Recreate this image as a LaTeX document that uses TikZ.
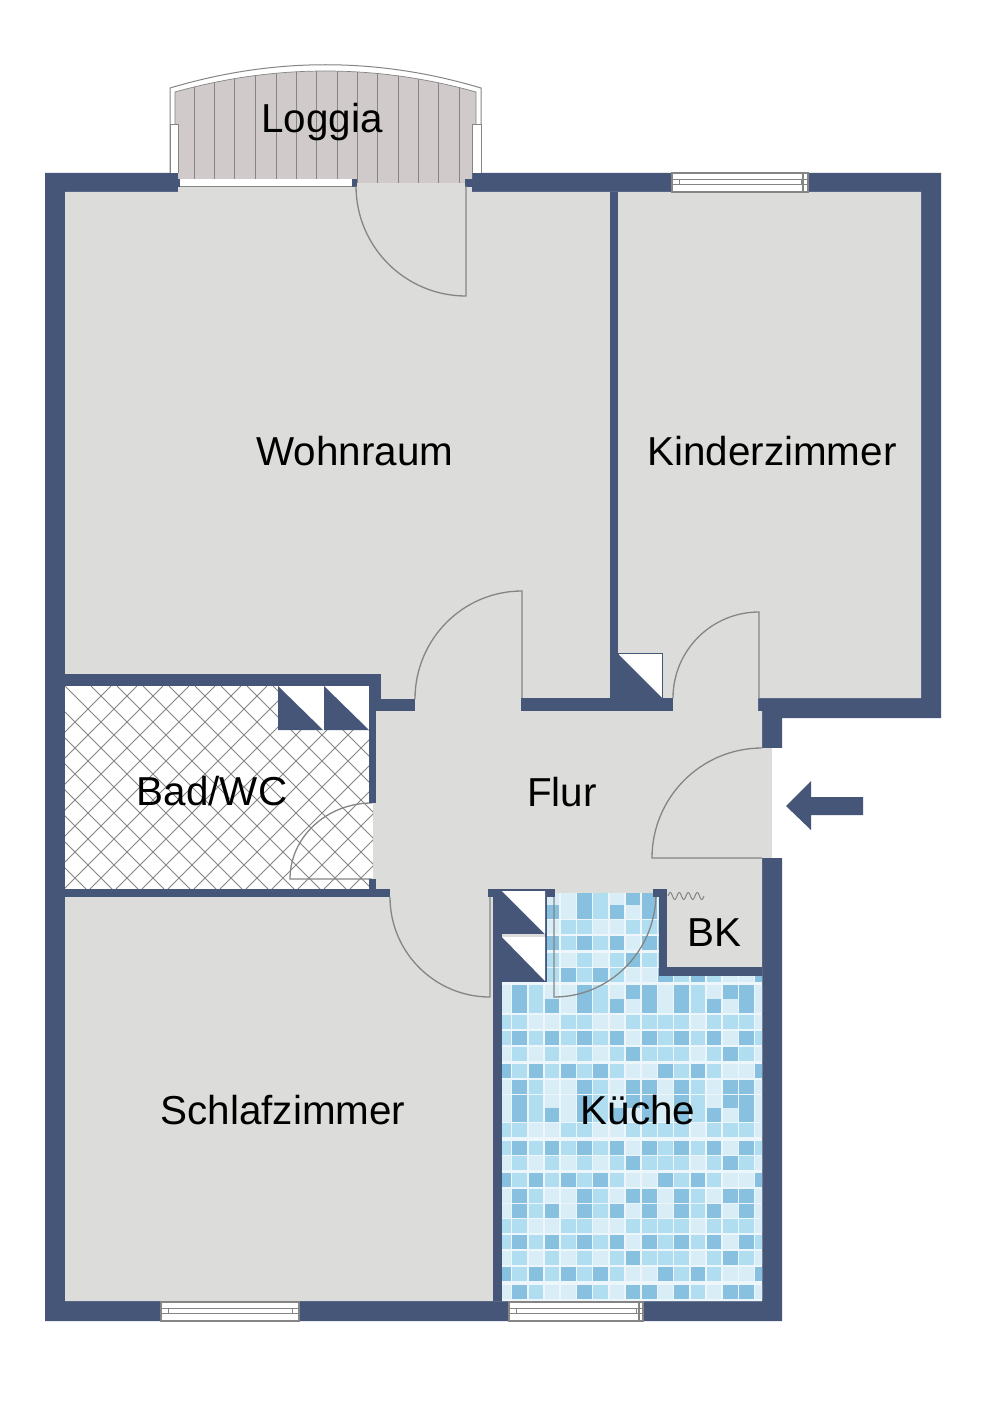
\documentclass[tikz,border=0pt]{standalone}
\usepackage{fontspec}
\setmainfont{Liberation Sans}
\definecolor{wallc}{HTML}{465678}
\definecolor{floorc}{HTML}{DCDCDA}
\definecolor{woodc}{HTML}{D0CACA}
\definecolor{edgec}{HTML}{858585}
\definecolor{groutc}{HTML}{EDF7FB}
\definecolor{tile1}{HTML}{D8EDF5}
\definecolor{tile2}{HTML}{B0DDF0}
\definecolor{tile3}{HTML}{88C1DF}
\def\rowA{2,3,2,3,2,3,2,3,1,3,2,3,2,3,1,3,2}
\def\rowB{1,2,1,2,1,2,1,2,3,2,2,2,1,2,3,2,1}
\def\rowC{3,2,3,2,3,2,3,2,1,1,3,2,3,2,1,1,3}
\def\rowD{1,3,2,1,1,3,2,1,3,3,1,3,2,1,3,3,1}
\def\rowE{1,3,2,3,1,3,2,3,1,3,1,3,2,3,1,3,1}
\def\rowF{2,2,1,1,2,2,1,1,2,2,2,2,1,2,2,2,1}
\tikzset{x=1pt,y=-1pt,
    roomlabel/.style={anchor=base,font=\fontsize{40.4}{48}\selectfont,inner sep=0pt},
    doorline/.style={draw=edgec,line width=1.3pt},
    winline/.style={draw=edgec,line width=1pt},
    }

\begin{document}
\begin{tikzpicture}
\useasboundingbox (0,0) rectangle (1000,1415);
\fill[white] (0,0) rectangle (1000,1415);
%outer walls, floor
\fill[wallc] (45,173) -- (941,173) -- (941,718) -- (782,718) -- (782,1321) -- (45,1321) -- cycle;
\fill[floorc] (65,192) -- (921,192) -- (921,698) -- (758,698) -- (758,711) -- (762,711) -- (762,1301) -- (65,1301) -- cycle;
\fill[floorc] (178,187) rectangle (472,192);
\fill[floorc] (357,179) rectangle (465,187);
\fill[floorc] (758,748) rectangle (772,858);
\fill[white] (772,748) rectangle (783,858);
%loggia
\filldraw[fill=white,winline] (170,173) -- (170,88) .. controls (274,57) and (377,57) .. (481,88) -- (481,173);
\begin{scope}
\clip (175,92) .. controls (275,64) and (376,64) .. (476,92) -- (476,124) -- (472,124) -- (472,179) -- (465,179) -- (465,183) -- (357,183) -- (357,179) -- (178,179) -- (178,124) -- (175,124) -- cycle;
\fill[woodc] (170,60) rectangle (481,190);
\foreach \x in {194,214,234,255,276,296,316,337,357,377,398,418,438,459}
    \draw[edgec,line width=0.8pt] (\x,60) -- (\x,190);
\end{scope}
\draw[winline,line width=0.7pt] (175,124) -- (175,92) .. controls (275,64) and (376,64) .. (476,92) -- (476,124);
\filldraw[fill=white,winline,line width=0.7pt] (170,173) -- (170,124) -- (178,124) -- (178,173);
\filldraw[fill=white,winline,line width=0.7pt] (481,173) -- (481,124) -- (472,124) -- (472,173);
\fill[white] (180,179) rectangle (352,187);
\draw[winline] (180,187) -- (352,187);
\fill[wallc] (178,179) rectangle (180,187);
\fill[wallc] (352,179) rectangle (357,187);
\fill[wallc] (465,179) rectangle (472,187);
%bad
\fill[white] (65,686) rectangle (373,889);
\begin{scope}
\clip (65,686) rectangle (373,889);
\foreach \d in {-143,-117,...,370}
    \draw[edgec,line width=0.9pt] (\d,686) -- ++(203,203);
\foreach \d in {-92,-66,...,560}
    \draw[edgec,line width=0.9pt] (\d,889) -- ++(203,-203);
\end{scope}
%kueche
\begin{scope}
\clip (546,893) -- (659,893) -- (659,976) -- (762,976) -- (762,1301) -- (502,1301) -- (502,982) -- (546,982) -- cycle;
\fill[groutc] (500,890) rectangle (765,1305);
\foreach \ty/\tilerow in {898/\rowD,912/\rowE,927/\rowF,943/\rowA,960/\rowB,975/\rowC,992/\rowD,1006/\rowE,1022/\rowF,
    1038/\rowA,1054/\rowB,1071/\rowC,1087/\rowD,1102/\rowD,1115/\rowE,1130/\rowF,1148/\rowA,1163/\rowB,1180/\rowC,
    1196/\rowD,1211/\rowE,1226/\rowF,1242/\rowA,1258/\rowB,1274/\rowC,1292/\rowD} {
  \edef\tilelist{\tilerow}
  \foreach \t [count=\c from 0] in \tilelist
    \fill[tile\t] (496.1+\c*16.2,\ty-7.2) rectangle ++(14.7,14.4);
}
\end{scope}
%doors: hinge x/y, start, end, radii
\foreach \hx/\hy/\sa/\ea/\rx/\ry in {466/186/180/90/110/110,522/699/180/270/107/108,759/698/180/270/86/86,
    762/858/270/180/110/110,372/879/270/180/82/76,490/897/180/90/100/100,554/893/0/90/102/104}
    \draw[doorline] (\hx,\hy) ++({\rx*cos(\sa)},{\ry*sin(\sa)}) arc[start angle=\sa,end angle=\ea,x radius=\rx,y radius=\ry] -- (\hx,\hy);
%inner walls
\foreach \xa/\ya/\xb/\yb in {610/192/618/711,521/698/673/711,618/698/618/711,65/674/381/686,369/674/381/711,381/699/415/711,
    369/711/376/803,369/879/376/890,65/889/390/897,488/889/555/897,493/889/502/1301,653/889/667/897,659/897/667/976,659/967/762/976,
    502/976/546/982,545/897/547/982}
    \fill[wallc] (\xa,\ya) rectangle (\xb,\yb);
%shafts
\fill[white] (278,686) rectangle (369,730);
\foreach \xa/\xb in {278/323,324/369}
    \fill[wallc] (\xa,686) -- (\xb,730) -- (\xa,730) -- cycle;
\filldraw[fill=white,draw=wallc,line width=1pt] (618,653.5) -- (662,653.5) -- (662,698) -- (618,698) -- cycle;
\fill[wallc] (618,654) -- (662,698) -- (618,698) -- cycle;
\foreach \ya/\yb in {891/934,937/981}{
    \fill[wallc] (502,\ya) rectangle (545,\yb);
    \fill[white] (502,\ya) -- (545,\ya) -- (545,\yb) -- cycle;
}
%radiator
\draw[edgec,line width=1pt,domain=0:36,samples=80,smooth] plot ({668+\x},{896-3.5*sin(\x*360/9)});
%windows
\foreach \xa/\xb/\ya/\yb in {161/299/1302/1321,509/643/1302/1321,672/808/173/192}{
    \filldraw[fill=white,winline,line width=1.5pt] (\xa,\ya) rectangle (\xb,\yb);
    \draw[winline,line width=0.8pt] (\xa,\ya+6) -- (\xb,\ya+6);
    \draw[winline,line width=0.8pt] (\xa,\ya+11.5) -- (\xb,\ya+11.5);
    \draw[winline,line width=0.7pt] (\xa+7,\ya+6) -- (\xa+7,\ya+11.5);
    \draw[winline,line width=0.7pt] (\xb-7,\ya+6) -- (\xb-7,\ya+11.5);
}
\draw[winline,line width=1.5pt] (639,1302) -- (639,1321);
\draw[winline,line width=1.5pt] (803,173) -- (803,192);
%arrow
\fill[wallc] (786,806) -- (811,781) -- (811,797) -- (863,797) -- (863,815) -- (811,815) -- (811,830) -- cycle;
%labels
\node[roomlabel] (loggia) at (322,133) {Loggia};
\node[roomlabel] (wohnraum) at (355,465.5) {Wohnraum};
\node[roomlabel] (kinderzimmer) at (772,465.5) {Kinderzimmer};
\node[roomlabel] (bad) at (212,805) {Bad/WC};
\node[roomlabel] (flur) at (562,806) {Flur};
\node[roomlabel] (bk) at (714,946) {BK};
\node[roomlabel] (schlafzimmer) at (283,1124) {Schlafzimmer};
\node[roomlabel] (kueche) at (638,1124) {Küche};
\end{tikzpicture}
\end{document}
